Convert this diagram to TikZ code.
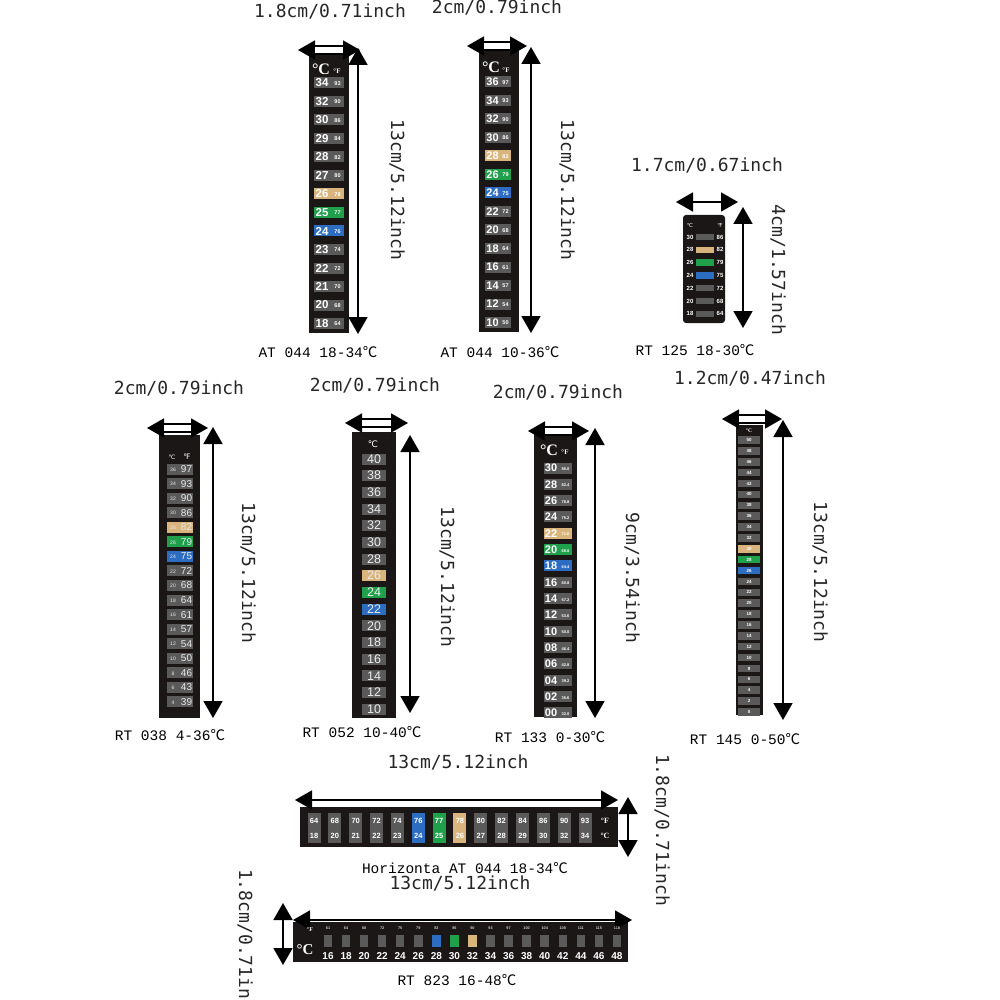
\documentclass[tikz,border=0pt]{standalone}
\usepackage{fontspec}
\setmainfont{Liberation Sans}
\newfontfamily\dimf{DejaVu Sans Mono}
\newfontfamily\lblf{Liberation Mono}
\newfontfamily\cjk{Noto Sans CJK SC}
\newfontfamily\dvs{DejaVu Sans}
\newfontfamily\serf{Liberation Serif}
\usetikzlibrary{arrows.meta}
\definecolor{stripc}{HTML}{1C1717}
\definecolor{cellc}{HTML}{5A5A5A}
\definecolor{tanc}{HTML}{D9B47C}
\definecolor{greenc}{HTML}{21A04C}
\definecolor{bluec}{HTML}{2C6DC2}
\newcommand\degC{{\cjk ℃}}
\newcommand\holarrow[4]{%
  \coordinate (#1l) at (#2,#4); \coordinate (#1r) at (#3,#4);
  \draw[dimarrow] (#1l) -- (#1r);
  \draw[shaftbox] ({#2+16},{#4-4}) rectangle ({#3-16},{#4+4});}
\tikzset{
  dimlab/.style={font=\dimf\fontsize{18}{18}\selectfont, inner sep=0pt, text=black!85},
  namelab/.style={font=\lblf\fontsize{14.5}{15}\selectfont, inner sep=0pt},
  stripbg/.style={fill=stripc, inner sep=0pt},
  cellbox/.style={fill=#1, inner sep=0pt},
  cellbox/.default=cellc,
  ctb/.style={text=white, inner sep=0pt, font=\bfseries\fontsize{#1}{#1}\selectfont},
  ctr/.style={text=white!92!black, inner sep=0pt, font=\fontsize{#1}{#1}\selectfont},
  hdr/.style={text=white, inner sep=0pt, font=\serf\bfseries\fontsize{#1}{#1}\selectfont},
  dimarrow/.style={line width=1.8pt, {Triangle[width=19pt,length=17pt]}-{Triangle[width=19pt,length=17pt]}},
  shaftbox/.style={draw=black, line width=1.1pt, fill=white},
}
\begin{document}
\begin{tikzpicture}[x=1pt,y=-1pt]
\useasboundingbox (0,0) rectangle (1000,1000);
\clip (0,0) rectangle (1000,1000);
\fill[white] (0,0) rectangle (1000,1000);

% ---------- Strip 1: AT 044 18-34
\node[stripbg, minimum width=40, minimum height=285] (s1) at (329,190.5) {};
\holarrow{s1h}{298}{360}{50}
\coordinate (s1t) at (358,48); \coordinate (s1b) at (358,334);
\draw[dimarrow] (s1t) -- (s1b);
\node[dimlab] (s1w) at (330,12) {1.8cm/0.71inch};
\node[dimlab, rotate=-90] (s1v) at (397,190) {13cm/5.12inch};
\node[namelab] (s1n) at (318,352) {AT 044 18-34\degC};
\node[hdr=16] (s1hc) at (321,69) {°C};
\node[hdr=7] (s1hf) at (337,71) {°F};
\foreach \c/\f/\col [count=\i from 0] in {34/93/cellc,32/90/cellc,30/86/cellc,29/84/cellc,28/82/cellc,27/80/cellc,26/78/tanc,25/77/greenc,24/76/bluec,23/74/cellc,22/72/cellc,21/70/cellc,20/68/cellc,18/64/cellc}{
  \node[cellbox=\col, minimum width=30, minimum height=11] (s1c\i) at ({329},{83+18.5*\i}) {};
  \node[ctb=11.5] (s1a\i) at ({322},{83+18.5*\i}) {\c};
  \node[ctb=5.5] (s1f\i) at ({337.5},{83.5+18.5*\i}) {\f};
}

% ---------- Strip 2: AT 044 10-36
\node[stripbg, minimum width=40, minimum height=285] (s2) at (499,189.5) {};
\holarrow{s2h}{467}{527}{46}
\coordinate (s2t) at (531,47); \coordinate (s2b) at (531,333);
\draw[dimarrow] (s2t) -- (s2b);
\node[dimlab] (s2w) at (497,8) {2cm/0.79inch};
\node[dimlab, rotate=-90] (s2v) at (567,190) {13cm/5.12inch};
\node[namelab] (s2n) at (500,352) {AT 044 10-36\degC};
\node[hdr=16] (s2hc) at (491,67) {°C};
\node[hdr=7] (s2hf) at (506,70) {°F};
\foreach \c/\f/\col [count=\i from 0] in {36/97/cellc,34/93/cellc,32/90/cellc,30/86/cellc,28/82/tanc,26/79/greenc,24/75/bluec,22/72/cellc,20/68/cellc,18/64/cellc,16/61/cellc,14/57/cellc,12/54/cellc,10/50/cellc}{
  \node[cellbox=\col, minimum width=26, minimum height=11] (s2c\i) at ({498},{82+18.5*\i}) {};
  \node[ctb=11] (s2a\i) at ({492.5},{82+18.5*\i}) {\c};
  \node[ctb=5.5] (s2f\i) at ({505.5},{82.5+18.5*\i}) {\f};
}

% ---------- RT 125
\node[stripbg, rounded corners=3pt, minimum width=42, minimum height=108] (r125) at (704,269) {};
\coordinate (r125l) at (676,202); \coordinate (r125r) at (738,202);
\draw[dimarrow] (r125l) -- (r125r);
\coordinate (r125t) at (743,207); \coordinate (r125b) at (743,328);
\draw[dimarrow] (r125t) -- (r125b);
\node[dimlab] (r125w) at (707,165) {1.7cm/0.67inch};
\node[dimlab, rotate=-90] (r125v) at (778,270) {4cm/1.57inch};
\node[namelab] (r125n) at (695,350) {RT 125 18-30\degC};
\node[text=white, inner sep=0pt, font=\dvs\fontsize{5.5}{5.5}\selectfont] (r125hc) at (690,225) {℃};
\node[text=white, inner sep=0pt, font=\dvs\fontsize{5.5}{5.5}\selectfont] (r125hf) at (720,225) {℉};
\foreach \c/\f/\col [count=\i from 0] in {30/86/cellc,28/82/tanc,26/79/greenc,24/75/bluec,22/72/cellc,20/68/cellc,18/64/cellc}{
  \node[cellbox=\col, minimum width=18, minimum height=6.5] (r125c\i) at ({705},{237+12.8*\i}) {};
  \node[ctb=6] (r125a\i) at ({690},{237+12.8*\i}) {\c};
  \node[ctb=6] (r125f\i) at ({720},{237+12.8*\i}) {\f};
}

% ---------- RT 038
\node[stripbg, minimum width=41, minimum height=283] (r038) at (179.5,576.5) {};
\holarrow{r038h}{147}{208}{428}
\coordinate (r038t) at (213,427); \coordinate (r038b) at (213,718);
\draw[dimarrow] (r038t) -- (r038b);
\node[dimlab] (r038w) at (179,388) {2cm/0.79inch};
\node[dimlab, rotate=-90] (r038v) at (248,573) {13cm/5.12inch};
\node[namelab] (r038n) at (170,735) {RT 038 4-36\degC};
\node[text=white, inner sep=0pt, font=\dvs\fontsize{6}{6}\selectfont] (r038hc) at (172,457) {℃};
\node[text=white, inner sep=0pt, font=\dvs\fontsize{7.5}{7.5}\selectfont] (r038hf) at (187,457) {℉};
\foreach \c/\f/\col [count=\i from 0] in {36/97/cellc,34/93/cellc,32/90/cellc,30/86/cellc,28/82/tanc,26/79/greenc,24/75/bluec,22/72/cellc,20/68/cellc,18/64/cellc,16/61/cellc,14/57/cellc,12/54/cellc,10/50/cellc,8/46/cellc,6/43/cellc,4/39/cellc}{
  \node[cellbox=\col, minimum width=26, minimum height=11] (r038c\i) at ({180},{469+14.56*\i}) {};
  \node[ctr=5] (r038a\i) at ({173},{469.5+14.56*\i}) {\c};
  \node[ctr=10] (r038f\i) at ({186.5},{469+14.56*\i}) {\f};
}

% ---------- RT 052
\node[stripbg, minimum width=44, minimum height=286] (r052) at (374,575) {};
\holarrow{r052h}{345}{408}{423}
\coordinate (r052t) at (410,435); \coordinate (r052b) at (410,713);
\draw[dimarrow] (r052t) -- (r052b);
\node[dimlab] (r052w) at (375,385) {2cm/0.79inch};
\node[dimlab, rotate=-90] (r052v) at (447,577) {13cm/5.12inch};
\node[namelab] (r052n) at (362,732) {RT 052 10-40\degC};
\node[text=white, inner sep=0pt, font=\dvs\fontsize{9}{9}\selectfont] (r052hc) at (373,444) {℃};
\foreach \c/\col [count=\i from 0] in {40/cellc,38/cellc,36/cellc,34/cellc,32/cellc,30/cellc,28/cellc,26/tanc,24/greenc,22/bluec,20/cellc,18/cellc,16/cellc,14/cellc,12/cellc,10/cellc}{
  \node[cellbox=\col, minimum width=24, minimum height=11] (r052c\i) at ({374},{459+16.67*\i}) {};
  \node[ctr=12.5] (r052a\i) at ({374},{459+16.67*\i}) {\c};
}

% ---------- RT 133
\node[stripbg, minimum width=43, minimum height=284] (r133) at (555.5,575) {};
\holarrow{r133h}{528}{589}{431}
\coordinate (r133t) at (595,428); \coordinate (r133b) at (595,718);
\draw[dimarrow] (r133t) -- (r133b);
\node[dimlab] (r133w) at (558,392) {2cm/0.79inch};
\node[dimlab, rotate=-90] (r133v) at (632,578) {9cm/3.54inch};
\node[namelab] (r133n) at (550,737) {RT 133 0-30\degC};
\node[hdr=16] (r133hc) at (549,450) {°C};
\node[hdr=7] (r133hf) at (565,452) {°F};
\foreach \c/\f/\col [count=\i from 0] in {30/86.0/cellc,28/82.4/cellc,26/78.8/cellc,24/75.2/cellc,22/71.6/tanc,20/68.0/greenc,18/64.4/bluec,16/60.8/cellc,14/57.2/cellc,12/53.6/cellc,10/50.0/cellc,08/46.4/cellc,06/42.8/cellc,04/39.2/cellc,02/35.6/cellc,00/32.0/cellc}{
  \node[cellbox=\col, minimum width=28, minimum height=11] (r133c\i) at ({558},{468+16.33*\i}) {};
  \node[ctb=11] (r133a\i) at ({551},{468+16.33*\i}) {\c};
  \node[ctb=4] (r133f\i) at ({565.5},{469+16.33*\i}) {\f};
}

% ---------- RT 145
\node[stripbg, minimum width=27, minimum height=290] (r145) at (749.5,570) {};
\holarrow{r145h}{722}{782}{419}
\coordinate (r145t) at (783,420); \coordinate (r145b) at (783,720);
\draw[dimarrow] (r145t) -- (r145b);
\node[dimlab] (r145w) at (750,378) {1.2cm/0.47inch};
\node[dimlab, rotate=-90] (r145v) at (820,572) {13cm/5.12inch};
\node[namelab] (r145n) at (745,739) {RT 145 0-50\degC};
\node[hdr=5.5] (r145hc) at (749,431) {°C};
\foreach \c/\col [count=\i from 0] in {50/cellc,48/cellc,46/cellc,44/cellc,42/cellc,40/cellc,38/cellc,36/cellc,34/cellc,32/cellc,30/tanc,28/greenc,26/bluec,24/cellc,22/cellc,20/cellc,18/cellc,16/cellc,14/cellc,12/cellc,10/cellc,8/cellc,6/cellc,4/cellc,2/cellc,0/cellc}{
  \node[cellbox=\col, minimum width=22, minimum height=7.5] (r145c\i) at ({749},{440+10.88*\i}) {};
  \node[ctb=4.5] (r145a\i) at ({749},{440+10.88*\i}) {\c};
}

% ---------- Horizontal AT 044
\node[stripbg, minimum width=318, minimum height=40] (h1) at (459,827) {};
\coordinate (h1l) at (295,800); \coordinate (h1r) at (618,800);
\draw[dimarrow] (h1l) -- (h1r);
\coordinate (h1t) at (628,797); \coordinate (h1b) at (628,857);
\draw[dimarrow] (h1t) -- (h1b);
\node[dimlab] (h1w) at (458,762) {13cm/5.12inch};
\node[dimlab, rotate=-90] (h1v) at (662,830) {1.8cm/0.71inch};
\node[namelab] (h1n) at (465,868) {Horizonta AT 044 18-34\degC};
\foreach \f/\c/\col [count=\i from 0] in {64/18/cellc,68/20/cellc,70/21/cellc,72/22/cellc,74/23/cellc,76/24/bluec,77/25/greenc,78/26/tanc,80/27/cellc,82/28/cellc,84/29/cellc,86/30/cellc,90/32/cellc,93/34/cellc}{
  \node[cellbox=\col, minimum width=13, minimum height=30] (h1c\i) at ({314+20.85*\i},828) {};
  \node[ctb=7.5] (h1f\i) at ({314+20.85*\i},821) {\f};
  \node[ctb=7.5] (h1a\i) at ({314+20.85*\i},836) {\c};
}
\node[hdr=8] (h1hf) at (605,821) {°F};
\node[hdr=8] (h1hc) at (605,836) {°C};

% ---------- RT 823
\node[stripbg, minimum width=335, minimum height=40] (h2) at (460.5,942) {};
\coordinate (h2l) at (293,920); \coordinate (h2r) at (632,920);
\draw[dimarrow] (h2l) -- (h2r);
\coordinate (h2t) at (283,903); \coordinate (h2b) at (283,965);
\draw[dimarrow] (h2t) -- (h2b);
\node[dimlab] (h2w) at (460,883) {13cm/5.12inch};
\node[dimlab, rotate=-90] (h2v) at (245,945) {1.8cm/0.71inch};
\node[namelab] (h2n) at (457,980) {RT 823 16-48\degC};
\foreach \f/\c/\col [count=\i from 0] in {61/16/cellc,64/18/cellc,68/20/cellc,72/22/cellc,75/24/cellc,79/26/cellc,82/28/bluec,86/30/greenc,90/32/tanc,93/34/cellc,97/36/cellc,100/38/cellc,104/40/cellc,108/42/cellc,111/44/cellc,115/46/cellc,118/48/cellc}{
  \node[ctb=3.8, text=white!80!black] (h2f\i) at ({328+18.06*\i},928) {\f};
  \node[cellbox=\col, minimum width=8.5, minimum height=12] (h2c\i) at ({328+18.06*\i},941) {};
  \node[ctb=10] (h2a\i) at ({328+18.06*\i},956) {\c};
}
\node[hdr=6] (h2hf) at (310,929) {°F};
\node[hdr=15] (h2hc) at (305,950) {°C};
\end{tikzpicture}
\end{document}
